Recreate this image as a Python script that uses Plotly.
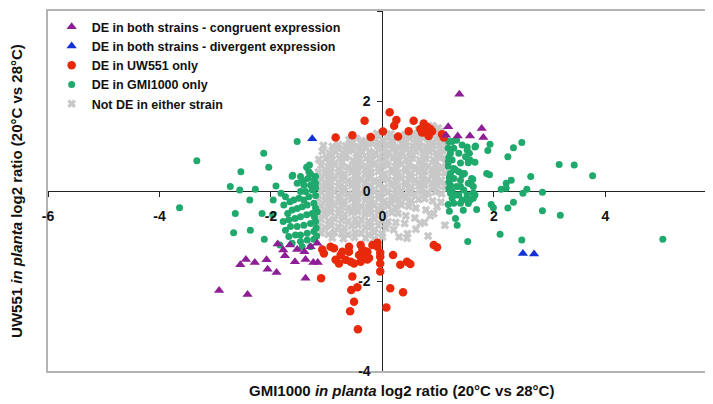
import plotly.graph_objects as go

# ---------------- data ----------------
x_ticks = [-6, -4, -2, 0, 2, 4]
x_tick_text = ["-6", "-4", "-2", "0", "2", "4"]
y_ticks = [-4, -2, 0, 2, 4]
y_tick_text = ["-4", "-2", "0", "2", "4"]

# DE in both strains - congruent expression
purple_x = [1.38, 1.18, 1.35, 1.57, 1.78, 1.81, 1.14,
            -2.93, -2.42, -2.55, -2.45, -2.29, -2.08, -2.06, -1.90, -1.88, -1.78,
            -1.75, -1.66, -1.57, -1.53, -1.40, -1.38, -1.29, -1.24, -1.16, -1.38, -1.17]
purple_y = [2.15, 1.43, 1.22, 1.22, 1.39, 1.19, 1.24,
            -2.21, -2.30, -1.64, -1.52, -1.59, -1.53, -1.74, -1.81, -1.18, -1.31,
            -1.44, -1.20, -1.57, -1.30, -1.35, -1.52, -1.24, -1.59, -1.59, -1.94, -1.16]

# DE in both strains - divergent expression
blue_x = [-1.26, 2.52, 2.72]
blue_y = [1.16, -1.39, -1.40]

# DE in UW551 only
red_x = [0.13, 0.25, 0.21, -0.32, 0.56, 0.01, 0.28, 0.47, -0.21, -0.54, -0.84, 0.74,
         0.80, 0.89, 0.71, 0.83, 1.07, 1.10, 0.68, 0.86, 0.77,
         -0.93, -1.05, -0.87, -0.75, -0.60, -0.60, -0.84, -0.78, -0.66, -0.51, -0.42,
         -0.39, -0.36, -0.27, -0.18, -0.09, -0.39, -0.27, -0.04, -0.04, -0.04, -0.36,
         0.19, 0.32, 0.44, 0.50, 0.92, 0.98, -1.10, -0.54, -0.45, -0.56, -0.51, -0.58,
         -0.44, 0.14, 0.37, 0.07, -1.08, -0.72, -0.57, -0.33, -0.24, -0.09, -0.04]
red_y = [1.75, 1.58, 1.45, 1.56, 1.56, 1.32, 1.21, 1.33, 1.20, 1.24, 1.19, 1.50,
         1.43, 1.33, 1.30, 1.22, 1.26, 1.19, 1.38, 1.38, 1.30,
         -1.24, -1.39, -1.27, -1.42, -1.24, -1.35, -1.53, -1.61, -1.53, -1.61, -1.42,
         -1.20, -1.31, -1.35, -1.20, -1.15, -1.57, -1.52, -1.46, -1.61, -1.79, -1.46,
         -1.42, -1.64, -1.57, -1.62, -1.20, -1.25, -1.94, -1.90, -2.14, -2.20, -2.46, -2.67,
         -3.07, -2.16, -2.25, -2.59, -1.30, -1.35, -1.57, -1.33, -1.49, -1.24, -1.37]

# DE in GMI1000 only
green_x = [-3.64, -3.33, -2.73, -2.56, -2.54, -2.28, -2.13, -2.04, -1.91, -2.38, -2.64,
           -2.67, -2.37, -2.12, -2.16, -1.97, -1.53, -1.61, -1.44, -1.84, -1.96,
           -1.62, -1.53, -1.42, -1.34, -1.36, -1.32, -1.29, -1.47, -1.38, -1.82, -1.74,
           -1.66, -1.77, -1.59, -1.50, -1.41, -1.32, -1.26, -1.20, -1.70, -1.62, -1.53,
           -1.44, -1.35, -1.23, -1.78, -1.68, -1.57, -1.47, -1.36, -1.26, -1.17, -1.74,
           -1.65, -1.53, -1.41, -1.29, -1.20, -1.68, -1.56, -1.47, -1.35, -1.23, -1.62,
           -1.47, -1.35, -1.23, -1.44, -1.29, -1.31, -1.47, -1.23, -1.20, -1.41, -1.29,
           -1.20, -1.20, -1.20, -1.22, -1.19, -1.18,
           1.25, 1.33, 1.43, 1.28, 1.22, 1.37, 1.52, 1.49, 1.25, 1.40, 1.54, 1.28, 1.37,
           1.46, 1.22, 1.28, 1.40, 1.54, 1.22, 1.33, 1.46, 1.25, 1.37, 1.52, 1.25, 1.43,
           1.57, 1.28, 1.63, 1.19, 1.52, 1.66, 1.57, 1.31, 1.43, 1.60, 1.40, 1.63, 1.22,
           1.34, 1.52, 1.66, 1.40, 1.54, 1.18, 1.19, 1.18, 1.20, 1.19, 1.18, 1.20, 1.18,
           1.19,
           1.87, 1.92, 1.93, 1.89, 1.67, 1.56, 1.66, 1.54, 1.62, 1.59, 1.63, 1.53, 1.47,
           1.69, 1.45, 1.31, 1.34, 1.53,
           2.50, 2.35, 2.25, 3.17, 3.44, 3.77, 2.66, 2.31, 2.22, 2.13, 2.22, 2.59, 2.52,
           2.87, 2.35, 2.25, 1.95, 1.99, 2.87, 3.19, 2.11, 2.50, 5.03]
green_y = [-0.37, 0.67, 0.10, 0.02, 0.43, 0.04, 0.84, 0.53, 0.11, -0.20, -0.50,
           -0.93, -0.87, -1.07, -0.50, -0.53, 1.10, 0.35, 0.24, -1.20, -0.20,
           0.33, 0.17, 0.21, 0.28, 0.53, 0.43, 0.38, -0.01, -0.01, -0.05, -0.13,
           -0.24, -0.31, -0.20, -0.16, -0.20, -0.13, 0.02, 0.06, -0.50, -0.42, -0.39,
           -0.35, -0.31, -0.27, -0.68, -0.64, -0.61, -0.57, -0.53, -0.50, -0.46, -0.87,
           -0.79, -0.79, -0.76, -0.72, -0.68, -1.01, -0.98, -0.98, -0.94, -0.90, -1.16,
           -1.12, -1.09, -1.07, -1.24, -1.24, 0.58, 0.32, 0.24, 0.32, 0.13, 0.13,
           0.17, -0.10, -0.38, -0.58, -0.82, -1.00,
           1.10, 1.13, 1.02, 0.95, 0.84, 0.84, 0.98, 0.76, 0.69, 0.62, 0.65, 0.50, 0.43,
           0.39, 0.39, 0.28, 0.24, 0.17, 0.13, 0.10, 0.02, -0.01, -0.09, -0.09, -0.16, -0.20,
           -0.20, -0.27, -0.16, 1.10, 0.91, 0.98, 0.69, 0.47, 0.36, 0.28, 0.10, 0.10, -0.05,
           -0.09, -0.16, -0.09, -0.27, -0.28, 0.95, 0.75, 0.55, 0.30, 0.05, -0.30, -0.45, 0.65,
           0.20,
           0.39, 0.36, 1.04, 0.90, 1.00, 0.84, 0.64, 0.63, 0.26, 0.15, -0.04, -0.20, 0.39,
           -0.41, -0.43, -0.61, -0.76, -1.12,
           1.08, 0.96, 0.76, 0.59, 0.58, 0.34, 0.32, 0.24, 0.17, 0.04, 0.06, 0.04, -0.05,
           -0.03, -0.25, -0.38, -0.30, -0.37, -0.44, -0.54, -0.96, -1.09, -1.07]

# Not DE in either strain (estimated positions across the grey cloud)
gray_x = [
    -0.60, -0.47, -0.37, -0.23, -0.12, 0.01, 0.12, 0.25, 0.36, 0.49, 0.60, 0.73, 0.84, 0.97, 1.08,
    -1.06, -0.90, -0.79, -0.66, -0.55, -0.42, -0.31, -0.18, -0.07, 0.06, 0.17, 0.30, 0.41, 0.54, 0.65, 0.78, 0.89, 1.02, 1.13,
    -1.08, -0.95, -0.84, -0.71, -0.60, -0.47, -0.36, -0.23, -0.12, 0.01, 0.12, 0.25, 0.36, 0.49, 0.60, 0.73, 0.84, 0.97, 1.08,
    -1.14, -1.01, -0.90, -0.77, -0.66, -0.53, -0.42, -0.29, -0.18, -0.05, 0.06, 0.19, 0.30, 0.43, 0.54, 0.67, 0.78, 0.91, 1.02, 1.13,
    -1.10, -0.97, -0.86, -0.73, -0.62, -0.49, -0.38, -0.25, -0.14, -0.01, 0.10, 0.23, 0.34, 0.47, 0.58, 0.71, 0.82, 0.95, 1.06,
    -1.15, -1.03, -0.92, -0.79, -0.68, -0.55, -0.44, -0.31, -0.20, -0.07, 0.04, 0.17, 0.28, 0.41, 0.52, 0.65, 0.76, 0.89, 1.00, 1.12,
    -1.10, -0.97, -0.86, -0.73, -0.62, -0.49, -0.38, -0.25, -0.14, -0.01, 0.10, 0.23, 0.34, 0.47, 0.58, 0.71, 0.82, 0.95, 1.06,
    -1.15, -1.03, -0.92, -0.79, -0.68, -0.55, -0.44, -0.31, -0.20, -0.07, 0.04, 0.17, 0.28, 0.41, 0.52, 0.65, 0.76, 0.89, 1.00, 1.12,
    -1.10, -0.97, -0.86, -0.73, -0.62, -0.49, -0.38, -0.25, -0.14, -0.01, 0.10, 0.23, 0.34, 0.47, 0.58, 0.71, 0.82, 0.95, 1.06,
    -1.15, -1.03, -0.92, -0.79, -0.68, -0.55, -0.44, -0.31, -0.20, -0.07, 0.04, 0.17, 0.28, 0.41, 0.52, 0.65, 0.76, 0.90, 1.05,
    -1.10, -0.97, -0.86, -0.73, -0.62, -0.49, -0.38, -0.25, -0.14, -0.01, 0.10, 0.23, 0.34, 0.47, 0.60, 0.78, 0.98,
    -1.15, -1.03, -0.92, -0.79, -0.68, -0.55, -0.44, -0.31, -0.20, -0.07, 0.04, 0.17, 0.28, 0.42, 0.58, 0.75, 0.92,
    -1.10, -0.97, -0.86, -0.73, -0.62, -0.49, -0.38, -0.25, -0.14, -0.01, 0.10, 0.24, 0.40, 0.60, 1.12,
    -1.15, -1.03, -0.92, -0.79, -0.68, -0.55, -0.44, -0.31, -0.20, -0.07, 0.06, 0.20, 0.45, 0.68, 0.82,
    -1.10, -0.97, -0.86, -0.73, -0.62, -0.49, -0.38, -0.25, -0.14, -0.01, 0.30, 0.86,
    -0.90, -0.70, -0.50, -0.30, -0.15, 0.00, 0.44,
    # second, offset layer filling the dense core
    -0.53, -0.30, -0.06, 0.18, 0.42, 0.66, 0.90,
    -0.78, -0.54, -0.30, -0.06, 0.18, 0.42, 0.66, 0.90,
    -0.90, -0.66, -0.42, -0.18, 0.06, 0.30, 0.54, 0.78, 1.02,
    -0.96, -0.72, -0.48, -0.24, 0.00, 0.24, 0.48, 0.72, 0.96,
    -1.02, -0.78, -0.54, -0.30, -0.06, 0.18, 0.42, 0.66, 0.90,
    -0.96, -0.72, -0.48, -0.24, 0.00, 0.24, 0.48, 0.72, 0.96,
    -1.02, -0.78, -0.54, -0.30, -0.06, 0.18, 0.42, 0.66, 0.90,
    -0.96, -0.72, -0.48, -0.24, 0.00, 0.24, 0.48, 0.70,
    -1.02, -0.78, -0.54, -0.30, -0.06, 0.18, 0.36,
    -0.96, -0.72, -0.48, -0.24, 0.00, 0.16,
    -1.02, -0.78, -0.54, -0.30, -0.08,
    # sparse points above the top edge, among the red ones
    -0.10, 0.15, 0.40, 0.55, 0.62, 0.65, 0.90, 0.95, 1.00, 1.05,
]
gray_y = [
    1.14, 1.17, 1.12, 1.18, 1.15, 1.13, 1.19, 1.16, 1.12, 1.17, 1.14, 1.18, 1.13, 1.16, 1.12,
    1.01, 0.99, 1.03, 1.00, 1.04, 0.98, 1.02, 1.05, 0.99, 1.01, 1.04, 0.98, 1.02, 1.00, 1.05, 0.99, 1.03, 1.01, 1.04,
    0.88, 0.84, 0.87, 0.85, 0.89, 0.83, 0.86, 0.88, 0.84, 0.87, 0.85, 0.89, 0.83, 0.86, 0.88, 0.84, 0.87, 0.85, 0.89,
    0.70, 0.73, 0.69, 0.72, 0.74, 0.68, 0.71, 0.73, 0.69, 0.72, 0.70, 0.74, 0.68, 0.71, 0.73, 0.69, 0.72, 0.70, 0.74, 0.71,
    0.57, 0.54, 0.58, 0.55, 0.53, 0.57, 0.56, 0.53, 0.58, 0.55, 0.57, 0.54, 0.59, 0.56, 0.53, 0.57, 0.55, 0.58, 0.54,
    0.42, 0.39, 0.43, 0.40, 0.38, 0.42, 0.44, 0.39, 0.41, 0.43, 0.38, 0.42, 0.40, 0.44, 0.39, 0.41, 0.43, 0.38, 0.42, 0.40,
    0.27, 0.24, 0.28, 0.25, 0.23, 0.27, 0.26, 0.29, 0.24, 0.27, 0.25, 0.23, 0.28, 0.26, 0.24, 0.27, 0.25, 0.28, 0.24,
    0.12, 0.09, 0.13, 0.10, 0.08, 0.12, 0.14, 0.09, 0.11, 0.13, 0.08, 0.12, 0.10, 0.14, 0.09, 0.11, 0.13, 0.08, 0.12, 0.10,
    -0.03, -0.06, -0.02, -0.05, -0.07, -0.03, -0.04, -0.07, -0.02, -0.05, -0.03, -0.06, -0.01, -0.04, -0.07, -0.03, -0.05, -0.02, -0.06,
    -0.18, -0.21, -0.17, -0.20, -0.22, -0.18, -0.16, -0.21, -0.19, -0.17, -0.22, -0.18, -0.20, -0.16, -0.21, -0.19, -0.17, -0.22, -0.25,
    -0.33, -0.36, -0.32, -0.35, -0.37, -0.33, -0.34, -0.37, -0.32, -0.35, -0.33, -0.36, -0.31, -0.34, -0.38, -0.42, -0.35,
    -0.48, -0.51, -0.47, -0.50, -0.52, -0.48, -0.46, -0.51, -0.49, -0.47, -0.52, -0.48, -0.50, -0.55, -0.60, -0.70, -0.50,
    -0.63, -0.66, -0.62, -0.65, -0.67, -0.63, -0.64, -0.67, -0.62, -0.65, -0.68, -0.70, -0.72, -0.85, -0.76,
    -0.78, -0.81, -0.77, -0.80, -0.82, -0.78, -0.76, -0.81, -0.79, -0.77, -0.82, -0.86, -0.95, -0.72, -1.00,
    -0.93, -0.96, -0.92, -0.95, -0.97, -0.93, -0.94, -0.97, -0.92, -0.95, -1.02, -0.55,
    -1.04, -1.06, -1.03, -1.05, -1.07, -1.02, -1.05,
    1.08, 1.09, 1.07, 1.10, 1.08, 1.09, 1.07,
    0.94, 0.93, 0.95, 0.92, 0.94, 0.93, 0.95, 0.92,
    0.79, 0.80, 0.78, 0.79, 0.81, 0.78, 0.80, 0.79, 0.78,
    0.63, 0.64, 0.62, 0.65, 0.63, 0.64, 0.62, 0.63, 0.64,
    0.48, 0.49, 0.47, 0.48, 0.50, 0.47, 0.49, 0.48, 0.47,
    0.33, 0.34, 0.32, 0.33, 0.35, 0.32, 0.34, 0.33, 0.32,
    0.18, 0.19, 0.17, 0.18, 0.20, 0.17, 0.19, 0.18, 0.17,
    0.03, 0.04, 0.02, 0.03, 0.05, 0.02, 0.04, 0.03,
    -0.12, -0.11, -0.13, -0.12, -0.10, -0.13, -0.11,
    -0.27, -0.26, -0.28, -0.27, -0.25, -0.28,
    -0.42, -0.41, -0.43, -0.42, -0.40,
    1.28, 1.27, 1.25, 1.28, 1.22, 1.36, 1.45, 1.30, 1.40, 1.33,
]

x_title = "GMI1000 <i>in planta</i> log2 ratio (20°C vs 28°C)"
y_title = "UW551 <i>in planta</i> log2 ratio (20°C vs 28°C)"

# ---------------- figure ----------------
# the page body adds an 8px offset, so the figure is sized to fit the 713x404 window
FONT = "Liberation Sans, Arial, sans-serif"
x_range = [-6, 5.93]
y_range = [-4, 4]
x_axis_pos = (0 - y_range[0]) / (y_range[1] - y_range[0])   # paper y of y=0
y_axis_pos = (0 - x_range[0]) / (x_range[1] - x_range[0])   # paper x of x=0

fig = go.Figure()
fig.add_trace(go.Scatter(x=gray_x, y=gray_y, mode="markers", name="Not DE in either strain",
                         marker=dict(symbol="x", size=7, color="#c8c8c8",
                                     line=dict(width=0.8, color="#c8c8c8")),
                         legendrank=5))
fig.add_trace(go.Scatter(x=green_x, y=green_y, mode="markers", name="DE in GMI1000 only",
                         marker=dict(symbol="circle", size=7, color="#1fa96c"), legendrank=4))
fig.add_trace(go.Scatter(x=red_x, y=red_y, mode="markers", name="DE in UW551 only",
                         marker=dict(symbol="circle", size=8.5, color="#e8290b"), legendrank=3))
fig.add_trace(go.Scatter(x=blue_x, y=blue_y, mode="markers",
                         name="DE in both strains - divergent expression",
                         marker=dict(symbol="triangle-up", size=9, color="#1232d6"), legendrank=2))
fig.add_trace(go.Scatter(x=purple_x, y=purple_y, mode="markers",
                         name="DE in both strains - congruent expression",
                         marker=dict(symbol="triangle-up", size=9, color="#8e1e96"), legendrank=1))
# empty traces so that frame axes (x2/y2) and label axes (x3/y3) are drawn
fig.add_trace(go.Scatter(x=[], y=[], xaxis="x2", yaxis="y2", showlegend=False, hoverinfo="skip"))
fig.add_trace(go.Scatter(x=[], y=[], xaxis="x3", yaxis="y3", showlegend=False, hoverinfo="skip"))

tick_font = dict(family=FONT, size=14, color="#111", weight="bold")
title_font = dict(family=FONT, size=15, color="#111", weight="bold")

fig.update_layout(
    width=705, height=396,
    margin=dict(l=40, r=0, t=3, b=33, autoexpand=False),
    plot_bgcolor="white", paper_bgcolor="white",
    showlegend=True,
    legend=dict(x=0.0055, y=0.997, xanchor="left", yanchor="top",
                bgcolor="rgba(0,0,0,0)",
                font=dict(family=FONT, size=12.5, color="#111", weight="bold"),
                tracegroupgap=0),
    xaxis=dict(range=x_range, anchor="free", position=x_axis_pos, showline=True,
               linecolor="#222", linewidth=1.3, ticks="outside", ticklen=5, tickwidth=1.3,
               tickcolor="#222", tickvals=x_ticks, showticklabels=False, showgrid=False,
               zeroline=False, layer="below traces", automargin=False),
    yaxis=dict(range=y_range, anchor="free", position=y_axis_pos, showline=True,
               linecolor="#222", linewidth=1.3, ticks="outside", ticklen=5, tickwidth=1.3,
               tickcolor="#222", tickvals=y_ticks, showticklabels=False, showgrid=False,
               zeroline=False, layer="below traces", automargin=False),
    xaxis2=dict(range=x_range, overlaying="x", anchor="y2", side="bottom", showline=True,
                mirror=True, linecolor="#b4b4b4", linewidth=1.5, ticks="", showticklabels=False,
                showgrid=False, zeroline=False, automargin=False),
    yaxis2=dict(range=y_range, overlaying="y", anchor="x2", side="left", showline=True,
                mirror=False, linecolor="#b4b4b4", linewidth=1.5, ticks="", showticklabels=False,
                showgrid=False, zeroline=False, automargin=False,
                title=dict(text=y_title, font=title_font, standoff=22)),
    xaxis3=dict(range=x_range, overlaying="x", anchor="free", position=x_axis_pos,
                showline=False, ticks="outside", ticklen=12, tickcolor="rgba(0,0,0,0)",
                tickvals=x_ticks, ticktext=x_tick_text, tickfont=tick_font,
                showgrid=False, zeroline=False, layer="above traces", automargin=False),
    yaxis3=dict(range=y_range, overlaying="y", anchor="free", position=y_axis_pos,
                showline=False, ticks="outside", ticklen=9, tickcolor="rgba(0,0,0,0)",
                tickvals=y_ticks, ticktext=y_tick_text, tickfont=tick_font,
                showgrid=False, zeroline=False, layer="above traces", automargin=False),
    annotations=[dict(text=x_title, xref="paper", yref="paper", x=0.532, y=-0.053,
                      xanchor="center", yanchor="middle", showarrow=False, font=title_font)],
)

fig.write_html("out.html")
